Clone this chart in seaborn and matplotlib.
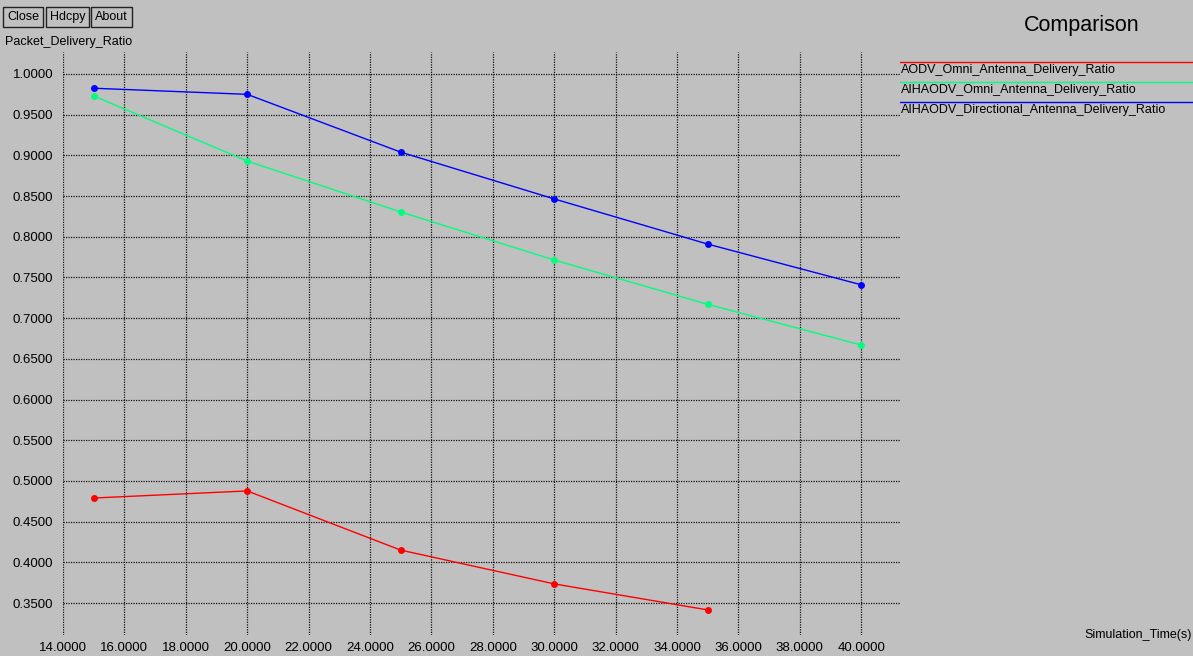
import matplotlib
matplotlib.use("Agg")
import matplotlib.pyplot as plt
import seaborn as sns
import pandas as pd

# Simulation times (s) and packet delivery ratios per protocol
sim_time = [15, 20, 25, 30, 35, 40]
aodv_omni = [0.4790, 0.4877, 0.4150, 0.3735, 0.3415]
aihaodv_omni = [0.9730, 0.8930, 0.8305, 0.7715, 0.7170, 0.6670]
aihaodv_dir = [0.9825, 0.9750, 0.9040, 0.8465, 0.7910, 0.7410]

series_names = [
    "AODV_Omni_Antenna_Delivery_Ratio",
    "AIHAODV_Omni_Antenna_Delivery_Ratio",
    "AIHAODV_Directional_Antenna_Delivery_Ratio",
]
series_colors = ["#ff0000", "#00ff7f", "#0000ff"]
x_ticks = [14, 16, 18, 20, 22, 24, 26, 28, 30, 32, 34, 36, 38, 40]
y_ticks = [0.35, 0.40, 0.45, 0.50, 0.55, 0.60, 0.65, 0.70, 0.75, 0.80, 0.85, 0.90, 0.95, 1.00]

rows = []
for name, vals in zip(series_names, [aodv_omni, aihaodv_omni, aihaodv_dir]):
    for t, v in zip(sim_time, vals):
        rows.append({"time": t, "ratio": v, "series": name})
df = pd.DataFrame(rows)

sns.set_theme(style="white")
plt.rcParams["font.family"] = ["Liberation Sans", "DejaVu Sans"]
plt.rcParams["text.color"] = "black"
bg = "#c0c0c0"
fs = 9

fig = plt.figure(figsize=(11.93, 6.56), dpi=100, facecolor=bg)
ax = fig.add_axes([63 / 1193, 1 - 635 / 656, (900 - 63) / 1193, (635 - 52) / 656])
ax.set_facecolor(bg)

sns.lineplot(data=df, x="time", y="ratio", hue="series", hue_order=series_names,
             palette=series_colors, marker="o", markersize=5, markeredgewidth=0,
             linewidth=1, legend=False, ax=ax, zorder=3)

ax.set_xlim(14, 14 + (900 - 63) / 30.7)
ax.set_ylim(0.35 - (635 - 603) / 40.7 * 0.05, 1.0 + (74 - 52) / 40.7 * 0.05)

ax.set_xticks(x_ticks)
ax.set_xticklabels([f"{v:.4f}" for v in x_ticks])
ax.set_yticks(y_ticks)
ax.set_yticklabels([f"{v:.4f}" for v in y_ticks])
ax.grid(True, color="black", linestyle=(0, (1, 1)), linewidth=0.9, alpha=0.9)
for s in ax.spines.values():
    s.set_visible(False)
ax.tick_params(axis="y", length=6, width=1, color="black", direction="out",
               labelsize=fs + 0.5, pad=1, labelcolor="black")
ax.tick_params(axis="x", length=0, labelsize=fs + 0.5, pad=5, labelcolor="black")
ax.set_xlabel("")
ax.set_ylabel("")

# Window buttons
for label, x0 in [("Close", 7), ("Hdcpy", 50), ("About", 95)]:
    fig.text(x0 / 1193, 1 - 17 / 656, label, fontsize=fs, va="center", ha="left",
             bbox=dict(boxstyle="square,pad=0.3", facecolor=bg, edgecolor="#222222", linewidth=1))

fig.text(5 / 1193, 1 - 42 / 656, "Packet_Delivery_Ratio", fontsize=fs, va="center", ha="left")
fig.text(1082 / 1193, 1 - 25 / 656, "Comparison", fontsize=15.5, va="center", ha="center")
fig.text(1192 / 1193, 1 - 635 / 656, "Simulation_Time(s)", fontsize=fs, va="center", ha="right")

# Legend: colored line over each label, at the right of the plot
for i, (name, col) in enumerate(zip(series_names, series_colors)):
    yl = 1 - (62 + 20 * i) / 656
    fig.add_artist(plt.Line2D([900 / 1193, 1.0], [yl, yl], color=col, linewidth=1,
                              transform=fig.transFigure))
    fig.text(901 / 1193, 1 - (70 + 20 * i) / 656, name, fontsize=fs, va="center", ha="left")

fig.savefig("out.png", dpi=100, facecolor=bg)
